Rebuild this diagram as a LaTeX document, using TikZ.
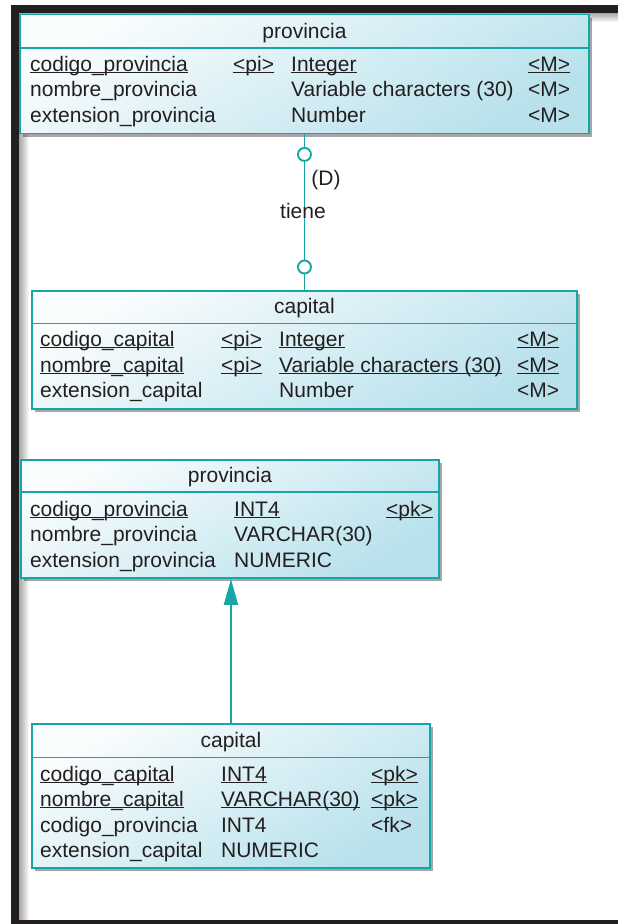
\documentclass[tikz,border=0pt]{standalone}
\usepackage{fontspec}
\setmainfont{Liberation Sans}
\usepackage{array}
\usetikzlibrary{arrows.meta,positioning,shadows,calc}
\definecolor{erteal}{RGB}{22,166,168}
\definecolor{erfill}{RGB}{184,225,236}
\definecolor{erink}{RGB}{35,31,32}
\definecolor{erframe}{RGB}{35,31,32}

% key attributes: rule just under the baseline
\newcommand{\keyul}[1]{\leavevmode\setbox0=\hbox{#1}\rlap{\rule[-1.7pt]{\wd0}{1.1pt}}\box0}

\begin{document}
\begin{tikzpicture}[x=1pt, y=-1pt,
  entity/.style={draw=erteal, line width=1.9pt, top color=erfill!8, bottom color=erfill,
    shading angle=30, inner sep=0pt, anchor=north west,
    drop shadow={shadow xshift=3.5pt, shadow yshift=-3.5pt, opacity=.35, fill=black}},
  title/.style={font=\fontsize{21}{25.5}\selectfont, text=erink, anchor=base, inner sep=0pt},
  attrs/.style={font=\fontsize{21}{25.5}\selectfont, text=erink, anchor=base west, inner sep=0pt},
  lbl/.style={font=\fontsize{21}{25.5}\selectfont, text=erink, inner sep=0pt},
  erline/.style={erteal, line width=1.9pt},
  ringend/.style={circle, draw=erteal, fill=white, line width=1.9pt, minimum size=13pt, inner sep=0pt}]

\useasboundingbox (0,0) rectangle (618,924);

% === Frame ===
\shade[left color=black!35, right color=white] (19,13) rectangle (29,920);
\shade[top color=black!35, bottom color=white] (19,13) rectangle (618,22);
\fill[erframe] (11,5) rectangle (618,13);
\fill[erframe] (11,5) rectangle (19,924);
\fill[erframe] (11,920) rectangle (618,924);

% === Conceptual model ===
\node[entity, minimum width=569pt, minimum height=119pt] (provC) at (19,13.5) {};
\draw[erline] ($(provC.north west)+(0,34.5)$) -- ($(provC.north east)+(0,34.5)$);
\node[title] (provC-t) at ($(provC.north)+(0,24.5)$) {provincia};
\node[attrs] (provC-a) at ($(provC.north west)+(11,57.5)$) {%
\begin{tabular}[t]{@{}p{203pt}@{}p{58pt}@{}p{237pt}@{}l@{}}
\keyul{codigo\_provincia} & \keyul{<pi>} & \keyul{Integer} & \keyul{<M>}\\
nombre\_provincia & & Variable characters (30) & <M>\\
extension\_provincia & & Number & <M>
\end{tabular}};

\node[entity, minimum width=545pt, minimum height=118pt] (capC) at (31,290) {};
\draw[erline] ($(capC.north west)+(0,33.5)$) -- ($(capC.north east)+(0,33.5)$);
\node[title] (capC-t) at ($(capC.north)+(0,23.5)$) {capital};
\node[attrs] (capC-a) at ($(capC.north west)+(9,56.5)$) {%
\begin{tabular}[t]{@{}p{181pt}@{}p{58pt}@{}p{238pt}@{}l@{}}
\keyul{codigo\_capital} & \keyul{<pi>} & \keyul{Integer} & \keyul{<M>}\\
\keyul{nombre\_capital} & \keyul{<pi>} & \keyul{Variable characters (30)} & \keyul{<M>}\\
extension\_capital & & Number & <M>
\end{tabular}};

% relationship
\draw[erline] (provC.south) -- (capC.north);
\node[ringend] (ringP) at ($(provC.south)+(0,20)$) {};
\node[ringend] (ringC) at ($(capC.north)+(0,-23)$) {};
\node[lbl] (card) at (326,180) {(D)};
\node[lbl] (rname) at (303,211) {tiene};

% === Physical model ===
\node[entity, minimum width=418pt, minimum height=118pt] (provP) at (20,459) {};
\draw[erline] ($(provP.north west)+(0,33)$) -- ($(provP.north east)+(0,33)$);
\node[title] (provP-t) at ($(provP.north)+(0,23)$) {provincia};
\node[attrs] (provP-a) at ($(provP.north west)+(10,57)$) {%
\begin{tabular}[t]{@{}p{204pt}@{}p{152pt}@{}l@{}}
\keyul{codigo\_provincia} & \keyul{INT4} & \keyul{<pk>}\\
nombre\_provincia & VARCHAR(30) & \\
extension\_provincia & NUMERIC &
\end{tabular}};

\node[entity, minimum width=398pt, minimum height=144pt] (capP) at (31,723) {};
\draw[erline] ($(capP.north west)+(0,34.5)$) -- ($(capP.north east)+(0,34.5)$);
\node[title] (capP-t) at ($(capP.north)+(0,24)$) {capital};
\node[attrs] (capP-a) at ($(capP.north west)+(9,58)$) {%
\begin{tabular}[t]{@{}p{181pt}@{}p{150pt}@{}l@{}}
\keyul{codigo\_capital} & \keyul{INT4} & \keyul{<pk>}\\
\keyul{nombre\_capital} & \keyul{VARCHAR(30)} & \keyul{<pk>}\\
codigo\_provincia & INT4 & <fk>\\
extension\_capital & NUMERIC &
\end{tabular}};

% reference
\draw[erline, -{Triangle[length=26pt, width=14pt]}] (capP.north) -- (capP.north |- provP.south);

\end{tikzpicture}
\end{document}
